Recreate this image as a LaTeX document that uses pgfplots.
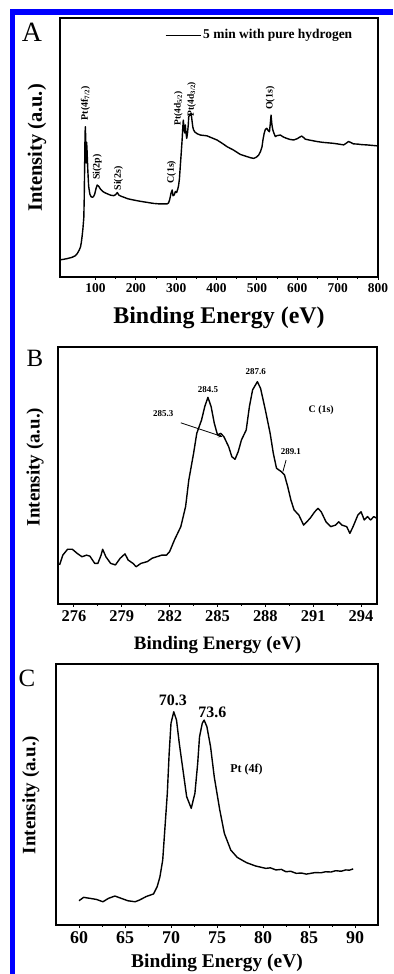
\documentclass[border=0pt]{standalone}
\usepackage{pgfplots}
\pgfplotsset{compat=1.18}
\usepackage{fontspec}
\setmainfont{Liberation Serif}
\newcommand{\fs}[1]{\fontsize{#1}{#1}\selectfont}
\pgfplotsset{
  panel/.style={scale only axis, anchor=south west,
    axis line style={line width=1.6bp},
    ytick=\empty, xtick pos=left, tick align=outside,
    major tick length=3bp, minor tick length=2bp, minor x tick num=1,
    every tick/.style={line width=1bp, black},
    /pgf/number format/assume math mode=true,
    /pgf/number format/1000 sep={},
    ymin=0, ymax=100,
    ylabel={Intensity (a.u.)},
    xlabel={Binding Energy (eV)},
  },
  curve/.style={black, no markers, line width=1.4bp, line join=round},
}
\begin{document}
\begin{tikzpicture}[x=1bp,y=1bp]
\path[use as bounding box] (0,0) rectangle (393,974);
\fill[blue] (10,0) rectangle (15,965);
\fill[blue] (10,959) rectangle (393,965);

% ---------- Panel A ----------
\begin{axis}[panel, at={(60bp,697bp)}, width=318bp, height=259bp,
  xmin=12, xmax=800, xtick={100,200,...,800},
  tick label style={font=\bfseries\fs{13.5}},
  xlabel style={font=\bfseries\fs{24}, at={(axis description cs:0.5,-0.158)}, anchor=center},
  ylabel style={font=\bfseries\fs{20.5}, at={(axis description cs:-0.072,0.498)}, anchor=center},
  legend style={draw=none, fill=none, at={(axis description cs:0.33,0.934)}, anchor=west, font=\bfseries\fs{13.5}, inner sep=0pt, row sep=0pt},
  legend cell align=left,
  legend image code/.code={\draw[#1, line width=1.1bp] (0,0) -- (35bp,0);},
]
\addplot[curve] coordinates {
(12,6.6) (20,6.8) (30,7.1) (42,7.6) (50,8.2) (55,9.1) (60,10.5) (63,11.7) (65,13.5) (67,16) (69,19) (71,23) (72,30) (73,42) (73.8,52) (74.5,57) (75,58)
(76,50) (77,44) (78,52) (79,49) (81,41) (83,35) (86,32) (89,31) (92,30.8) (95,31) (98,32) (101,34) (104,35.5) (108,35) (112,34)
(118,33) (125,32.4) (131,32) (137,31.6) (145,31.4) (150,31.8) (154,32.6) (158,31.6) (163,31.2) (170,30.8) (180,30.2) (195,29.7)
(208,29.3) (220,29) (232,28.7) (244,28.4) (260,28.2) (277,28.2) (281,28.6) (284,30) (287,32.3) (290,33.6) (292,31.4) (295,31.7)
(298,33) (301,32.6) (304,34) (306,35.5) (308,38) (310,42.6) (312,47) (314.6,52.9) (316,57) (317.5,60.6) (319,58) (321,55.6)
(322.5,58.7) (324,56) (326,53.5) (328,55.5) (330,59) (331,62) (334,62.5) (337,63.2) (339,60.5) (341,58) (343,56.8) (346,56)
(352,55.3) (360,54.8) (376,54.5) (390,53.6) (401,52.9) (415,51.5) (426,50.3) (442,49) (459,47.3) (475,46.5) (485,46) (492,45.8)
(498,46.2) (504,47) (509,48.5) (512.6,50.3) (515,53) (518,55.5) (521,57) (524.5,57.4) (528,56.5) (531,56.1) (533,59) (535,62.5)
(537,59) (539,57) (541,56) (545.5,54.2) (550,54.6) (558,54.8) (566,54) (574,53.5) (582,53.1) (591,52.9) (600,53.4) (606,54) (611,54.4)
(616,53.8) (620,53.2) (632,52.8) (649,52.3) (662,52) (676,51.8) (690,51.6) (703,51.3) (715,51) (721,51.6) (727,52.3) (733,51.9)
(739,51.4) (750,51.3) (760,51.1) (772,51) (786,50.8) (800,50.6)
};
\addlegendentry{5 min with pure hydrogen}
\node[rotate=90, font=\bfseries\fs{10}] at (axis cs:75,67) {Pt(4f\textsubscript{7/2})};
\node[rotate=90, font=\bfseries\fs{10}] at (axis cs:104,42.5) {Si(2p)};
\node[rotate=90, font=\bfseries\fs{10}] at (axis cs:157,38) {Si(2s)};
\node[rotate=90, font=\bfseries\fs{10}] at (axis cs:288,40.5) {C(1s)};
\node[rotate=90, font=\bfseries\fs{9.5}] at (axis cs:305,65) {Pt(4d\textsubscript{5/2})};
\node[rotate=90, font=\bfseries\fs{9.5}] at (axis cs:338,68.7) {Pt(4d\textsubscript{3/2})};
\node[rotate=90, font=\bfseries\fs{10}] at (axis cs:533,69) {O(1s)};
\end{axis}
\node[font=\fs{28}] at (32,942) {A};

% ---------- Panel B ----------
\begin{axis}[panel, at={(58bp,370bp)}, width=319bp, height=257bp,
  xmin=275, xmax=295, xtick={276,279,...,294},
  tick label style={font=\bfseries\fs{16.5}},
  xlabel style={font=\bfseries\fs{19}, at={(axis description cs:0.5,-0.16)}, anchor=center},
  ylabel style={font=\bfseries\fs{19}, at={(axis description cs:-0.072,0.533)}, anchor=center},
]
\addplot[curve] coordinates {
(275.1,15.2) (275.3,19) (275.6,21.3) (275.9,21.3) (276.2,19.7) (276.5,18.4) (276.8,19) (277.0,18.6) (277.3,15.8) (277.5,15.8)
(277.7,19) (277.8,21.3) (278.0,18.4) (278.3,15.8) (278.6,15.2) (278.9,17.8) (279.2,19.5) (279.4,17.1) (279.7,15.8) (279.9,14.5)
(280.2,15.8) (280.6,16.5) (280.9,17.8) (281.2,18.4) (281.5,19) (281.8,19) (282.0,20.4) (282.3,24.9) (282.7,30.1) (283.0,37.9)
(283.2,48.2) (283.5,58.6) (283.7,66.4) (284.0,71.6) (284.2,76.8) (284.4,80.4) (284.6,76.8) (284.8,70.3) (285.0,65.8) (285.2,66.4)
(285.4,65.1) (285.7,61.2) (285.9,57.3) (286.1,56.3) (286.3,59.3) (286.5,63.8) (286.8,67.7) (287.0,76.8) (287.2,83.3) (287.5,86.5)
(287.7,83.9) (288.0,75.5) (288.3,66.4) (288.5,58.6) (288.7,52.8) (289.0,51.5) (289.2,50.2) (289.4,45.7) (289.6,40.5) (289.8,36.6)
(290.1,34.6) (290.4,30.7) (290.8,33.3) (291.1,35.9) (291.3,37.2) (291.5,35.9) (291.8,32.0) (292.1,30.1) (292.4,30.7) (292.6,32)
(292.8,30.7) (293.1,30.1) (293.3,27.5) (293.5,30.1) (293.8,34.6) (294.0,35.9) (294.2,32.7) (294.4,34) (294.6,32.7) (294.8,34) (295.0,33.3)
};
\node[font=\bfseries\fs{9}] at (axis cs:287.4,90.4) {287.6};
\node[font=\bfseries\fs{9}] at (axis cs:284.4,83.5) {284.5};
\node[font=\bfseries\fs{9}] at (axis cs:281.6,74.2) {285.3};
\draw[-stealth, line width=0.8bp] (axis cs:282.7,70.5) -- (axis cs:285.3,65.1);
\node[font=\bfseries\fs{10}] at (axis cs:291.5,75.5) {C (1s)};
\node[font=\bfseries\fs{9}] at (axis cs:289.6,59.3) {289.1};
\draw[line width=0.8bp] (axis cs:289.3,56) -- (axis cs:289.1,51.5);
\end{axis}
\node[font=\fs{25}] at (35,616) {B};

% ---------- Panel C ----------
\begin{axis}[panel, at={(56bp,49bp)}, width=322bp, height=261bp,
  xmin=57.5, xmax=92.5, xtick={60,65,...,90},
  tick label style={font=\bfseries\fs{18}},
  xlabel style={font=\bfseries\fs{19.5}, at={(axis description cs:0.5,-0.146)}, anchor=center},
  ylabel style={font=\bfseries\fs{19}, at={(axis description cs:-0.078,0.498)}, anchor=center},
]
\addplot[curve] coordinates {
(60.0,9.3) (60.5,10.6) (61.2,10.2) (61.9,9.8) (62.6,8.9) (63.2,10.2) (63.9,11.1) (64.6,10.2) (65.3,9.3) (66.1,8.9) (66.6,9.6)
(67.3,10.9) (68.1,11.9) (68.5,14.7) (68.8,18.5) (69.1,24.9) (69.3,35.1) (69.6,50.5) (69.8,65.8) (70.0,77.3) (70.3,81.7) (70.6,78.5)
(70.9,69.6) (71.3,59.4) (71.7,49.2) (72.2,44.7) (72.6,50.5) (72.9,61.9) (73.1,72.1) (73.4,77.3) (73.6,78.5) (73.9,76) (74.3,68.3)
(74.7,56.8) (75.3,44.1) (75.8,35.1) (76.5,28.7) (77.2,25.9) (78.2,23.9) (79.2,22.6) (80.3,21.7) (80.8,21.9) (81.4,21.1) (82.0,21.3)
(82.5,20.4) (83.0,20.6) (83.6,19.8) (84.2,19.9) (84.7,19.5) (85.2,19.8) (85.7,20.1) (86.3,20.0) (86.8,20.4) (87.4,20.3) (87.9,20.8)
(88.5,20.6) (89.0,21.1) (89.4,21.0) (89.8,21.5)
};
\node[font=\bfseries\fs{16}] at (axis cs:70.2,86.2) {70.3};
\node[font=\bfseries\fs{16}] at (axis cs:74.5,81.3) {73.6};
\node[font=\bfseries\fs{12}] at (axis cs:78.2,59.4) {Pt (4f)};
\end{axis}
\node[font=\fs{25}] at (27,296) {C};
\end{tikzpicture}
\end{document}
